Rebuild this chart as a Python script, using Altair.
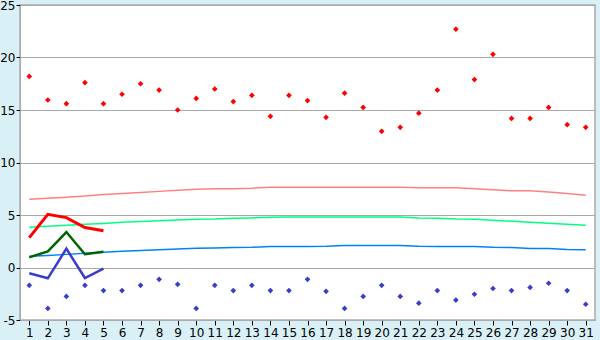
import altair as alt
import pandas as pd

days = list(range(1, 32))
tmax = [18.2, 15.95, 15.6, 17.6, 15.6, 16.5, 17.5, 16.9, 15.0, 16.1,
        17.0, 15.8, 16.4, 14.4, 16.4, 15.9, 14.3, 16.6, 15.25, 12.97,
        13.35, 14.7, 16.9, 22.7, 17.9, 20.3, 14.2, 14.2, 15.25, 13.6, 13.35]
tmin = [-1.7, -3.9, -2.75, -1.7, -2.2, -2.2, -1.7, -1.13, -1.6, -3.9,
        -1.7, -2.2, -1.7, -2.2, -2.2, -1.13, -2.27, -3.9, -2.75, -1.7,
        -2.75, -3.4, -2.2, -3.1, -2.55, -2.0, -2.2, -1.9, -1.5, -2.2, -3.5]
norm_max = [6.5, 6.6, 6.7, 6.8, 6.95, 7.05, 7.15, 7.25, 7.35, 7.45,
            7.5, 7.5, 7.55, 7.65, 7.65, 7.65, 7.65, 7.65, 7.65, 7.65,
            7.65, 7.6, 7.6, 7.6, 7.5, 7.4, 7.3, 7.3, 7.2, 7.05, 6.87]
norm_mean = [3.83, 3.93, 4.03, 4.12, 4.2, 4.3, 4.38, 4.45, 4.53, 4.6,
             4.62, 4.68, 4.72, 4.78, 4.8, 4.8, 4.8, 4.8, 4.8, 4.8,
             4.8, 4.72, 4.7, 4.62, 4.6, 4.5, 4.4, 4.32, 4.22, 4.12, 4.03]
norm_min = [1.07, 1.15, 1.25, 1.35, 1.45, 1.55, 1.62, 1.7, 1.77, 1.83,
            1.85, 1.9, 1.93, 2.0, 2.0, 2.0, 2.02, 2.1, 2.1, 2.1,
            2.1, 2.02, 2.0, 2.0, 2.0, 1.92, 1.9, 1.82, 1.8, 1.72, 1.7]
cur_days = [1, 2, 3, 4, 5]
cur_max = [2.84, 5.07, 4.75, 3.8, 3.5]
cur_mean = [0.97, 1.54, 3.38, 1.26, 1.5]
cur_min = [-0.55, -1.03, 1.79, -1.0, -0.1]

df = pd.DataFrame({"day": days, "tmax": tmax, "tmin": tmin,
                   "nmax": norm_max, "nmean": norm_mean, "nmin": norm_min})
cur = pd.DataFrame({"day": cur_days, "cmax": cur_max, "cmean": cur_mean, "cmin": cur_min})

xs = alt.Scale(domain=[0.5, 31.5], nice=False, zero=False)
ys = alt.Scale(domain=[-5, 25], nice=False, zero=False)

xax = alt.Axis(values=days, grid=False, domainColor="#aaaaaa", tickColor="#000000",
               tickSize=5, labelFontSize=12, labelColor="#000000", labelFont="DejaVu Sans",
               labelPadding=2, title=None, labelFlush=False, labelOverlap=False)
yax = alt.Axis(values=[-5, 0, 5, 10, 15, 20, 25], grid=True, gridColor="#aaaaaa",
               domainColor="#aaaaaa", tickColor="#000000", tickSize=4, labelFontSize=12,
               labelColor="#000000", labelFont="DejaVu Sans", labelPadding=1, title=None,
               labelFlush=False, labelExpr="replace(datum.label, '\u2212', '-')")

base = alt.Chart(df)
def line(data, field, color, w):
    return alt.Chart(data).mark_line(color=color, strokeWidth=w, clip=True).encode(
        x=alt.X("day:Q", scale=xs, axis=xax),
        y=alt.Y(f"{field}:Q", scale=ys, axis=yax))

def pts(field, color):
    return base.mark_point(shape="diamond", filled=True, size=32, color=color, opacity=1).encode(
        x=alt.X("day:Q", scale=xs, axis=xax),
        y=alt.Y(f"{field}:Q", scale=ys, axis=yax))

chart = alt.layer(
    line(df, "nmax", "#ff8080", 1.5),
    line(df, "nmean", "#00ff80", 1.5),
    line(df, "nmin", "#0080ff", 1.5),
    line(cur, "cmax", "#ff0000", 3),
    line(cur, "cmean", "#006400", 2.5),
    line(cur, "cmin", "#3c3ccc", 2.5),
    pts("tmax", "#ff0000"),
    pts("tmin", "#3c3ccc"),
).properties(
    width=575, height=315,
    background="#d9f0f6",
    padding={"left": 20, "top": 5, "right": 5, "bottom": 20},
    autosize=alt.AutoSizeParams(type="none"),
).configure_view(fill="#ffffff", stroke="#aaaaaa", strokeWidth=1.5)

chart.save("out.html", embed_options={"renderer": "svg", "actions": False})
